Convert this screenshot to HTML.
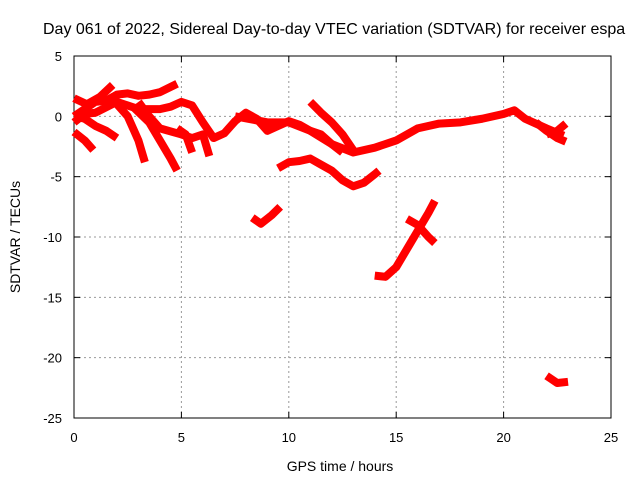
<!DOCTYPE html>
<html><head><meta charset="utf-8"><style>
body{margin:0;background:#fff}
text{font-family:"Liberation Sans",sans-serif;fill:#000}
</style></head><body>
<svg id="c" width="640" height="480" xmlns="http://www.w3.org/2000/svg"></svg>
<script>
const xTicks=[0,5,10,15,20,25];
const yTicks=[5,0,-5,-10,-15,-20,-25];
const t1=[[0,1.5],[0.6,1.0],[1.2,1.6],[1.8,2.6]];
const t2=[[0,0],[0.5,0.6],[1,1.2],[1.5,1.3],[2,1.8],[2.5,1.9],[3,1.7],[3.5,1.8],[4,2.0],[4.8,2.7]];
const t3=[[0,-0.5],[0.5,0.2],[1,0.3],[2,1.2],[3,0.6],[4,0.6],[4.5,0.8],[5,1.2],[5.5,0.9],[6,-0.5],[6.5,-1.8],[7,-1.4],[7.5,-0.4],[8,0.3],[8.5,-0.2],[9,-1.2],[9.5,-0.8],[10,-0.4],[10.5,-0.7],[11,-1.2],[12,-2.3],[13,-3.0],[14,-2.6],[15,-2.0],[16,-1.0],[17,-0.6],[18,-0.5],[19,-0.2],[20,0.2],[20.5,0.5],[21,-0.2],[22,-1.0],[22.8,-1.6]];
const t4=[[0,0],[0.5,-0.2],[1,-0.8],[1.5,-1.2],[2,-1.8]];
const t5=[[0,-1.3],[0.5,-2],[0.9,-2.8]];
const t6=[[2,1.0],[2.5,0],[3,-2],[3.3,-3.8]];
const t7=[[2.8,0.7],[3.5,-0.5],[4,-2],[4.5,-3.5],[4.8,-4.5]];
const t8=[[3,1.2],[3.5,0],[4,-1],[5,-1.5],[5.5,-1.8],[6,-1.5],[6.3,-3.3]];
const t9=[[4.8,-1],[5.2,-1.5],[5.5,-3]];
const t10=[[7.5,0],[9,-0.5],[10,-0.5],[11,-1.2],[11.5,-1.5],[12,-2.3],[12.5,-3.0]];
const t11=[[11,1.2],[11.5,0.3],[12,-0.5],[12.5,-1.5],[13,-2.8]];
const t12=[[9.5,-4.3],[10,-3.8],[10.5,-3.7],[11,-3.5],[11.5,-4],[12,-4.5],[12.5,-5.3],[13,-5.8],[13.5,-5.5],[14,-4.8],[14.2,-4.5]];
const t13=[[8.3,-8.4],[8.7,-8.9],[9.2,-8.2],[9.6,-7.5]];
const t14=[[14,-13.2],[14.5,-13.3],[15,-12.5],[15.5,-11],[16,-9.5],[16.5,-8],[16.8,-7]];
const t15=[[15.5,-8.5],[16,-9],[16.5,-10],[16.8,-10.5]];
const t16=[[22,-21.5],[22.5,-22.1],[23,-22]];
const t17=[[21.5,-0.5],[22,-1.2],[22.5,-1.8],[22.9,-2.1]];
const t18=[[22,-1.5],[22.5,-1.2],[22.9,-0.6]];
const tracks=[t1,t2,t3,t4,t5,t6,t7,t8,t9,t10,t11,t12,t13,t14,t15,t16,t17,t18];
const L=74,R=611,T=56,B=418;
const X=v=>L+(v-0)/25*(R-L);
const Y=v=>T+(5-v)/30*(B-T);
const s=document.getElementById('c');const NS='http://www.w3.org/2000/svg';
function mk(tag,attrs,parent){const e=document.createElementNS(NS,tag);for(const k in attrs)e.setAttribute(k,attrs[k]);(parent||s).appendChild(e);return e;}
xTicks.forEach(v=>{
 if(v>0&&v<25){const g=mk('line',{x1:X(v),x2:X(v),y1:T,y2:B,stroke:'#999','stroke-dasharray':'2,3'});
 
 }
 const t=mk('text',{x:X(v),y:B+24,'text-anchor':'middle','font-size':13});t.textContent=v;
 
 
 mk('line',{x1:X(v),x2:X(v),y1:B,y2:B-6,stroke:'#000'});mk('line',{x1:X(v),x2:X(v),y1:T,y2:T+6,stroke:'#000'});
});
yTicks.forEach(v=>{
 if(v<5&&v>-25){const g=mk('line',{x1:L,x2:R,y1:Y(v),y2:Y(v),stroke:'#999','stroke-dasharray':'2,3'});
 
 }
 const t=mk('text',{x:L-12,y:Y(v)+5,'text-anchor':'end','font-size':13});t.textContent=v;
 
 
 mk('line',{x1:L,x2:L+6,y1:Y(v),y2:Y(v),stroke:'#000'});mk('line',{x1:R,x2:R-6,y1:Y(v),y2:Y(v),stroke:'#000'});
});
const fr=mk('rect',{x:L,y:T,width:R-L,height:B-T,fill:'none',stroke:'#000'});


tracks.forEach(tr=>{
 const p=mk('polyline',{points:tr.map(d=>X(d[0])+','+Y(d[1])).join(' '),fill:'none',stroke:'#f00','stroke-width':8,'stroke-linejoin':'round','stroke-linecap':'butt'});
 
 
});
const ti=mk('text',{x:43,y:34,'font-size':16});ti.textContent='Day 061 of 2022, Sidereal Day-to-day VTEC variation (SDTVAR) for receiver espa';


const xl=mk('text',{x:340,y:471,'text-anchor':'middle','font-size':14});xl.textContent='GPS time / hours';


const yl=mk('text',{x:20,y:237,'text-anchor':'middle','font-size':14,transform:'rotate(-90 20 237)'});yl.textContent='SDTVAR / TECUs';


</script>
</body></html>
